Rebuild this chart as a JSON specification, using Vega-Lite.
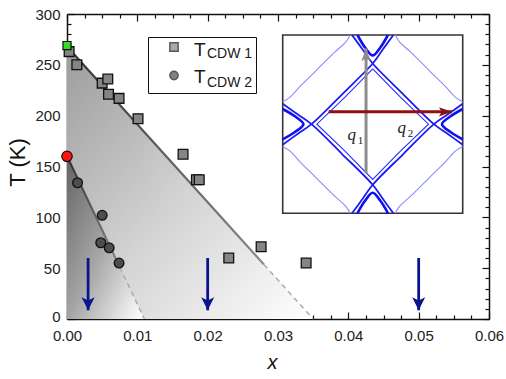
{
  "$schema": "https://vega.github.io/schema/vega-lite/v6.json",
  "width": 422,
  "height": 305,
  "autosize": {"type": "none"},
  "padding": {"left": 67, "top": 14, "right": 17, "bottom": 60},
  "background": "white",
  "config": {
    "view": {"stroke": null},
    "font": "Liberation Sans",
    "axis": {"grid": false, "domainColor": "#111", "domainWidth": 1.5, "tickColor": "#111", "tickWidth": 1.2, "labelFont": "Liberation Sans", "labelFontSize": 15, "labelColor": "#222", "labelFlush": false, "labelOverlap": false, "titleFont": "Liberation Sans", "titleFontWeight": "normal", "titleColor": "#111", "zindex": 1},
    "legend": {"labelFont": "Liberation Sans", "labelColor": "#1a1a1a"}
  },
  "datasets": {
    "boundaries": [
      {"phase": "CDW 1", "segment": "measured", "x": 0, "T": 268},
      {"phase": "CDW 1", "segment": "measured", "x": 0.028, "T": 53.6},
      {"phase": "CDW 1", "segment": "extrapolated", "x": 0.028, "T": 53.6},
      {"phase": "CDW 1", "segment": "extrapolated", "x": 0.035, "T": 0},
      {"phase": "CDW 2", "segment": "measured", "x": 0, "T": 160},
      {"phase": "CDW 2", "segment": "measured", "x": 0.0075, "T": 51},
      {"phase": "CDW 2", "segment": "extrapolated", "x": 0.0075, "T": 51},
      {"phase": "CDW 2", "segment": "extrapolated", "x": 0.011, "T": 0}
    ],
    "points": [
      {"x": 0.0003, "T": 263, "series": "T_CDW 1"},
      {"x": 0.0014, "T": 250, "series": "T_CDW 1"},
      {"x": 0.0050, "T": 232, "series": "T_CDW 1"},
      {"x": 0.0058, "T": 236, "series": "T_CDW 1"},
      {"x": 0.0059, "T": 221, "series": "T_CDW 1"},
      {"x": 0.0074, "T": 217, "series": "T_CDW 1"},
      {"x": 0.0101, "T": 197, "series": "T_CDW 1"},
      {"x": 0.0165, "T": 162, "series": "T_CDW 1"},
      {"x": 0.0184, "T": 137, "series": "T_CDW 1"},
      {"x": 0.0188, "T": 137, "series": "T_CDW 1"},
      {"x": 0.0230, "T": 60, "series": "T_CDW 1"},
      {"x": 0.0276, "T": 71, "series": "T_CDW 1"},
      {"x": 0.0340, "T": 55, "series": "T_CDW 1"},
      {"x": 0.0015, "T": 134, "series": "T_CDW 2"},
      {"x": 0.0050, "T": 102, "series": "T_CDW 2"},
      {"x": 0.0048, "T": 75, "series": "T_CDW 2"},
      {"x": 0.0060, "T": 70, "series": "T_CDW 2"},
      {"x": 0.0074, "T": 55, "series": "T_CDW 2"}
    ],
    "parent": [
      {"x": 0, "T": 269, "series": "T_CDW 1"},
      {"x": 0, "T": 160, "series": "T_CDW 2"}
    ],
    "arrows": [
      {"x": 0.003, "from": 60, "to": 8.6},
      {"x": 0.02, "from": 60, "to": 8.6},
      {"x": 0.05, "from": 60, "to": 8.6}
    ],
    "fermi": [
      {"kind": "outer", "id": "o1", "i": 0, "u": -0.23, "v": 1},
      {"kind": "outer", "id": "o1", "i": 1, "u": -0.11, "v": 0.835},
      {"kind": "outer", "id": "o1", "i": 2, "u": 0, "v": 0.68},
      {"kind": "outer", "id": "o1", "i": 3, "u": 0.34, "v": 0.335},
      {"kind": "outer", "id": "o1", "i": 4, "u": 0.68, "v": 0},
      {"kind": "outer", "id": "o1", "i": 5, "u": 0.835, "v": -0.11},
      {"kind": "outer", "id": "o1", "i": 6, "u": 1, "v": -0.23},
      {"kind": "outer", "id": "o2", "i": 0, "u": 0.23, "v": 1},
      {"kind": "outer", "id": "o2", "i": 1, "u": 0.11, "v": 0.835},
      {"kind": "outer", "id": "o2", "i": 2, "u": 0, "v": 0.68},
      {"kind": "outer", "id": "o2", "i": 3, "u": -0.34, "v": 0.335},
      {"kind": "outer", "id": "o2", "i": 4, "u": -0.68, "v": 0},
      {"kind": "outer", "id": "o2", "i": 5, "u": -0.835, "v": -0.11},
      {"kind": "outer", "id": "o2", "i": 6, "u": -1, "v": -0.23},
      {"kind": "outer", "id": "o3", "i": 0, "u": -0.23, "v": -1},
      {"kind": "outer", "id": "o3", "i": 1, "u": -0.11, "v": -0.835},
      {"kind": "outer", "id": "o3", "i": 2, "u": 0, "v": -0.68},
      {"kind": "outer", "id": "o3", "i": 3, "u": 0.34, "v": -0.335},
      {"kind": "outer", "id": "o3", "i": 4, "u": 0.68, "v": 0},
      {"kind": "outer", "id": "o3", "i": 5, "u": 0.835, "v": 0.11},
      {"kind": "outer", "id": "o3", "i": 6, "u": 1, "v": 0.23},
      {"kind": "outer", "id": "o4", "i": 0, "u": 0.23, "v": -1},
      {"kind": "outer", "id": "o4", "i": 1, "u": 0.11, "v": -0.835},
      {"kind": "outer", "id": "o4", "i": 2, "u": 0, "v": -0.68},
      {"kind": "outer", "id": "o4", "i": 3, "u": -0.34, "v": -0.335},
      {"kind": "outer", "id": "o4", "i": 4, "u": -0.68, "v": 0},
      {"kind": "outer", "id": "o4", "i": 5, "u": -0.835, "v": 0.11},
      {"kind": "outer", "id": "o4", "i": 6, "u": -1, "v": 0.23},
      {"kind": "chevron", "id": "h1", "i": 0, "u": -0.17, "v": 1},
      {"kind": "chevron", "id": "h1", "i": 1, "u": -0.085, "v": 0.86},
      {"kind": "chevron", "id": "h1", "i": 2, "u": 0, "v": 0.77},
      {"kind": "chevron", "id": "h1", "i": 3, "u": 0.085, "v": 0.86},
      {"kind": "chevron", "id": "h1", "i": 4, "u": 0.17, "v": 1},
      {"kind": "chevron", "id": "h2", "i": 0, "u": -0.17, "v": -1},
      {"kind": "chevron", "id": "h2", "i": 1, "u": -0.085, "v": -0.86},
      {"kind": "chevron", "id": "h2", "i": 2, "u": 0, "v": -0.77},
      {"kind": "chevron", "id": "h2", "i": 3, "u": 0.085, "v": -0.86},
      {"kind": "chevron", "id": "h2", "i": 4, "u": 0.17, "v": -1},
      {"kind": "chevron", "id": "h3", "i": 0, "u": -1, "v": 0.17},
      {"kind": "chevron", "id": "h3", "i": 1, "u": -0.86, "v": 0.085},
      {"kind": "chevron", "id": "h3", "i": 2, "u": -0.77, "v": 0},
      {"kind": "chevron", "id": "h3", "i": 3, "u": -0.86, "v": -0.085},
      {"kind": "chevron", "id": "h3", "i": 4, "u": -1, "v": -0.17},
      {"kind": "chevron", "id": "h4", "i": 0, "u": 1, "v": 0.17},
      {"kind": "chevron", "id": "h4", "i": 1, "u": 0.86, "v": 0.085},
      {"kind": "chevron", "id": "h4", "i": 2, "u": 0.77, "v": 0},
      {"kind": "chevron", "id": "h4", "i": 3, "u": 0.86, "v": -0.085},
      {"kind": "chevron", "id": "h4", "i": 4, "u": 1, "v": -0.17},
      {"kind": "inner", "id": "n1", "i": 0, "u": 0, "v": 0.62},
      {"kind": "inner", "id": "n1", "i": 1, "u": 0.305, "v": 0.305},
      {"kind": "inner", "id": "n1", "i": 2, "u": 0.62, "v": 0},
      {"kind": "inner", "id": "n1", "i": 3, "u": 0.305, "v": -0.305},
      {"kind": "inner", "id": "n1", "i": 4, "u": 0, "v": -0.62},
      {"kind": "inner", "id": "n1", "i": 5, "u": -0.305, "v": -0.305},
      {"kind": "inner", "id": "n1", "i": 6, "u": -0.62, "v": 0},
      {"kind": "inner", "id": "n1", "i": 7, "u": -0.305, "v": 0.305},
      {"kind": "inner", "id": "n1", "i": 8, "u": 0, "v": 0.62},
      {"kind": "arc", "id": "a1", "i": 0, "u": -0.25, "v": 1},
      {"kind": "arc", "id": "a1", "i": 1, "u": -0.3, "v": 0.92},
      {"kind": "arc", "id": "a1", "i": 2, "u": -0.42, "v": 0.81},
      {"kind": "arc", "id": "a1", "i": 3, "u": -0.62, "v": 0.61},
      {"kind": "arc", "id": "a1", "i": 4, "u": -0.81, "v": 0.42},
      {"kind": "arc", "id": "a1", "i": 5, "u": -0.92, "v": 0.3},
      {"kind": "arc", "id": "a1", "i": 6, "u": -1, "v": 0.25},
      {"kind": "arc", "id": "a2", "i": 0, "u": 0.25, "v": 1},
      {"kind": "arc", "id": "a2", "i": 1, "u": 0.3, "v": 0.92},
      {"kind": "arc", "id": "a2", "i": 2, "u": 0.42, "v": 0.81},
      {"kind": "arc", "id": "a2", "i": 3, "u": 0.62, "v": 0.61},
      {"kind": "arc", "id": "a2", "i": 4, "u": 0.81, "v": 0.42},
      {"kind": "arc", "id": "a2", "i": 5, "u": 0.92, "v": 0.3},
      {"kind": "arc", "id": "a2", "i": 6, "u": 1, "v": 0.25},
      {"kind": "arc", "id": "a3", "i": 0, "u": -0.25, "v": -1},
      {"kind": "arc", "id": "a3", "i": 1, "u": -0.3, "v": -0.92},
      {"kind": "arc", "id": "a3", "i": 2, "u": -0.42, "v": -0.81},
      {"kind": "arc", "id": "a3", "i": 3, "u": -0.62, "v": -0.61},
      {"kind": "arc", "id": "a3", "i": 4, "u": -0.81, "v": -0.42},
      {"kind": "arc", "id": "a3", "i": 5, "u": -0.92, "v": -0.3},
      {"kind": "arc", "id": "a3", "i": 6, "u": -1, "v": -0.25},
      {"kind": "arc", "id": "a4", "i": 0, "u": 0.25, "v": -1},
      {"kind": "arc", "id": "a4", "i": 1, "u": 0.3, "v": -0.92},
      {"kind": "arc", "id": "a4", "i": 2, "u": 0.42, "v": -0.81},
      {"kind": "arc", "id": "a4", "i": 3, "u": 0.62, "v": -0.61},
      {"kind": "arc", "id": "a4", "i": 4, "u": 0.81, "v": -0.42},
      {"kind": "arc", "id": "a4", "i": 5, "u": 0.92, "v": -0.3},
      {"kind": "arc", "id": "a4", "i": 6, "u": 1, "v": -0.25}
    ],
    "qvec": [
      {"q": "q1", "u0": -0.074, "v0": -0.55, "u1": -0.074, "v1": 0.85},
      {"q": "q2", "u0": -0.49, "v0": 0.138, "u1": 0.88, "v1": 0.138}
    ],
    "qlab": [
      {"q": "q", "sub": "1", "u": -0.233, "v": -0.18},
      {"q": "q", "sub": "2", "u": 0.322, "v": -0.1}
    ]
  },
  "layer": [
    {
      "layer": [
        {
          "data": {"name": "boundaries"},
          "transform": [{"filter": "datum.phase === 'CDW 1'"}],
          "mark": {"type": "area", "color": {"gradient": "linear", "x1": 0, "y1": 0, "x2": 1, "y2": 1, "stops": [{"offset": 0, "color": "#9c9c9c"}, {"offset": 0.5, "color": "#d2d2d2"}, {"offset": 1, "color": "#ffffff"}]}},
          "encoding": {
            "x": {"field": "x", "type": "quantitative", "scale": {"domain": [0, 0.06], "nice": false, "zero": false},
              "axis": {"orient": "bottom", "values": [0, 0.01, 0.02, 0.03, 0.04, 0.05, 0.06], "format": ".2f", "tickSize": -7, "labelPadding": 16, "title": "x", "titleFontStyle": "italic", "titleFontSize": 20, "titleX": 205, "titlePadding": 9, "titleColor": "#111"}},
            "y": {"field": "T", "type": "quantitative", "scale": {"domain": [0, 300], "nice": false, "zero": false},
              "axis": {"orient": "left", "values": [0, 50, 100, 150, 200, 250, 300], "tickSize": -7, "labelPadding": 14, "labelOffset": {"condition": {"test": "datum.value === 0", "value": -3}, "value": 0}, "title": "T (K)", "titleFontSize": 22, "titlePadding": 5, "titleY": 148, "titleColor": "#111"}},
            "y2": {"datum": 0}
          }
        },
        {
          "data": {"name": "boundaries"},
          "transform": [{"filter": "datum.phase === 'CDW 2'"}],
          "mark": {"type": "area", "color": {"gradient": "linear", "x1": 0, "y1": 0.1, "x2": 0.9, "y2": 1, "stops": [{"offset": 0, "color": "#6a6a6a"}, {"offset": 0.5, "color": "#a4a4a4"}, {"offset": 1, "color": "#f8f8f8"}]}},
          "encoding": {
            "x": {"field": "x", "type": "quantitative",
              "axis": {"orient": "bottom", "values": [0.0025, 0.005, 0.0075, 0.0125, 0.015, 0.0175, 0.0225, 0.025, 0.0275, 0.0325, 0.035, 0.0375, 0.0425, 0.045, 0.0475, 0.0525, 0.055, 0.0575], "labels": false, "domain": false, "tickSize": -4, "title": null}},
            "y": {"field": "T", "type": "quantitative",
              "axis": {"orient": "left", "values": [10, 20, 30, 40, 60, 70, 80, 90, 110, 120, 130, 140, 160, 170, 180, 190, 210, 220, 230, 240, 260, 270, 280, 290], "labels": false, "domain": false, "tickSize": -4, "title": null}},
            "y2": {"datum": 0}
          }
        },
        {
          "data": {"name": "boundaries"},
          "transform": [{"filter": "datum.segment === 'measured'"}],
          "mark": {"type": "line", "strokeWidth": 2.2, "stroke": {"gradient": "linear", "x1": 0, "y1": 0, "x2": 0, "y2": 1, "stops": [{"offset": 0, "color": "#333333"}, {"offset": 1, "color": "#8a8a8a"}]}},
          "encoding": {
            "x": {"field": "x", "type": "quantitative",
              "axis": {"orient": "top", "values": [0, 0.01, 0.02, 0.03, 0.04, 0.05, 0.06], "labels": false, "tickSize": -7, "title": null}},
            "y": {"field": "T", "type": "quantitative",
              "axis": {"orient": "right", "values": [0, 50, 100, 150, 200, 250, 300], "labels": false, "tickSize": -7, "title": null}},
            "detail": {"field": "phase"}
          }
        },
        {
          "data": {"name": "boundaries"},
          "transform": [{"filter": "datum.segment === 'extrapolated'"}],
          "mark": {"type": "line", "strokeWidth": 1.5, "stroke": "#ababab", "strokeDash": [5, 4]},
          "encoding": {
            "x": {"field": "x", "type": "quantitative",
              "axis": {"orient": "top", "values": [0.0025, 0.005, 0.0075, 0.0125, 0.015, 0.0175, 0.0225, 0.025, 0.0275, 0.0325, 0.035, 0.0375, 0.0425, 0.045, 0.0475, 0.0525, 0.055, 0.0575], "labels": false, "domain": false, "tickSize": -4, "title": null}},
            "y": {"field": "T", "type": "quantitative",
              "axis": {"orient": "right", "values": [10, 20, 30, 40, 60, 70, 80, 90, 110, 120, 130, 140, 160, 170, 180, 190, 210, 220, 230, 240, 260, 270, 280, 290], "labels": false, "domain": false, "tickSize": -4, "title": null}},
            "detail": {"field": "phase"}
          }
        },
        {
          "data": {"name": "arrows"},
          "mark": {"type": "rule", "stroke": "#0a148c", "strokeWidth": 2.8},
          "encoding": {
            "x": {"field": "x", "type": "quantitative", "axis": null},
            "y": {"field": "from", "type": "quantitative", "axis": null},
            "y2": {"field": "to"}
          }
        },
        {
          "data": {"name": "arrows"},
          "mark": {"type": "point", "shape": "M0,0 L-0.5,-1 L0,-0.75 L0.5,-1 Z", "size": 676, "filled": true, "fill": "#0a148c", "stroke": null, "opacity": 1},
          "encoding": {
            "x": {"field": "x", "type": "quantitative", "axis": null},
            "y": {"field": "to", "type": "quantitative", "axis": null}
          }
        },
        {
          "data": {"name": "points"},
          "mark": {"type": "point", "filled": true, "stroke": "#111", "strokeWidth": 1.3, "size": 95},
          "encoding": {
            "x": {"field": "x", "type": "quantitative", "axis": null},
            "y": {"field": "T", "type": "quantitative", "axis": null},
            "color": {"field": "series", "type": "nominal", "scale": {"range": ["#858585", "#4d4d4d"]},
              "legend": {"orient": "none", "legendX": 81, "legendY": 23, "title": null, "padding": 3, "strokeColor": "#111", "fillColor": "white", "symbolOffset": 16, "symbolSize": 70, "symbolStrokeColor": "#111", "symbolStrokeWidth": 1.4, "labelFontSize": 14, "labelBaseline": "top", "labelOffset": 26, "rowPadding": 7.5, "labelExpr": "slice(datum.label, 2)"}},
            "shape": {"field": "series", "type": "nominal", "scale": {"range": ["square", "circle"]}},
            "opacity": {"field": "series", "type": "ordinal", "scale": {"domain": ["T_CDW 1", "T_CDW 2"], "range": [1, 1]},
              "legend": {"orient": "none", "legendX": 108, "legendY": 26.5, "title": null, "padding": 0, "symbolSize": 0, "symbolStrokeWidth": 0, "labelFontSize": 19, "labelBaseline": "middle", "labelOffset": 0, "rowPadding": 6.5, "labelExpr": "'T'"}}
          }
        },
        {
          "data": {"name": "parent"},
          "transform": [{"filter": "datum.series === 'T_CDW 1'"}],
          "mark": {"type": "point", "shape": "square", "filled": true, "fill": "#33dd22", "stroke": "#111", "strokeWidth": 1.2, "size": 65, "opacity": 1},
          "encoding": {
            "x": {"field": "x", "type": "quantitative", "axis": null},
            "y": {"field": "T", "type": "quantitative", "axis": null}
          }
        },
        {
          "data": {"name": "parent"},
          "transform": [{"filter": "datum.series === 'T_CDW 2'"}],
          "mark": {"type": "point", "shape": "circle", "filled": true, "fill": "#ff1111", "stroke": "#111", "strokeWidth": 1.2, "size": 110, "opacity": 1},
          "encoding": {
            "x": {"field": "x", "type": "quantitative", "axis": null},
            "y": {"field": "T", "type": "quantitative", "axis": null}
          }
        }
      ],
      "resolve": {"axis": {"x": "independent", "y": "independent"}}
    },
    {
      "layer": [
        {
          "data": {"values": [{"panel": "Fermi surface"}]},
          "mark": {"type": "rect", "fill": "white", "stroke": "#333", "strokeWidth": 1.6},
          "encoding": {
            "x": {"datum": -1, "type": "quantitative", "scale": {"domain": [-1, 1], "range": [215.7, 395.7], "nice": false, "zero": false}, "axis": null},
            "x2": {"datum": 1},
            "y": {"datum": -1, "type": "quantitative", "scale": {"domain": [-1, 1], "range": [199.3, 21], "nice": false, "zero": false}, "axis": null},
            "y2": {"datum": 1}
          }
        },
        {
          "data": {"name": "fermi"},
          "transform": [{"filter": "datum.kind === 'arc'"}],
          "mark": {"type": "line", "interpolate": "catmull-rom", "stroke": "#8c8cff", "strokeWidth": 1.1},
          "encoding": {
            "x": {"field": "u", "type": "quantitative", "axis": null},
            "y": {"field": "v", "type": "quantitative", "axis": null},
            "detail": {"field": "id"},
            "order": {"field": "i"}
          }
        },
        {
          "data": {"name": "fermi"},
          "transform": [{"filter": "datum.kind === 'inner'"}],
          "mark": {"type": "line", "interpolate": "linear", "stroke": "#2a2aff", "strokeWidth": 1.1},
          "encoding": {
            "x": {"field": "u", "type": "quantitative", "axis": null},
            "y": {"field": "v", "type": "quantitative", "axis": null},
            "detail": {"field": "id"},
            "order": {"field": "i"}
          }
        },
        {
          "data": {"name": "fermi"},
          "transform": [{"filter": "datum.kind === 'outer'"}],
          "mark": {"type": "line", "interpolate": "catmull-rom", "stroke": "#1c1cf5", "strokeWidth": 1.8},
          "encoding": {
            "x": {"field": "u", "type": "quantitative", "axis": null},
            "y": {"field": "v", "type": "quantitative", "axis": null},
            "detail": {"field": "id"},
            "order": {"field": "i"}
          }
        },
        {
          "data": {"name": "fermi"},
          "transform": [{"filter": "datum.kind === 'chevron'"}],
          "mark": {"type": "line", "interpolate": "catmull-rom", "stroke": "#1010ee", "strokeWidth": 2.6},
          "encoding": {
            "x": {"field": "u", "type": "quantitative", "axis": null},
            "y": {"field": "v", "type": "quantitative", "axis": null},
            "detail": {"field": "id"},
            "order": {"field": "i"}
          }
        },
        {
          "data": {"name": "qvec"},
          "transform": [{"filter": "datum.q === 'q1'"}],
          "mark": {"type": "rule", "stroke": "#8c8c8c", "strokeWidth": 3},
          "encoding": {
            "x": {"field": "u0", "type": "quantitative", "axis": null},
            "y": {"field": "v0", "type": "quantitative", "axis": null},
            "x2": {"field": "u1"},
            "y2": {"field": "v1"}
          }
        },
        {
          "data": {"name": "qvec"},
          "transform": [{"filter": "datum.q === 'q1'"}],
          "mark": {"type": "point", "shape": "M0,0 L0.36,1 L0,0.78 L-0.36,1 Z", "size": 676, "filled": true, "fill": "#8c8c8c", "stroke": null, "opacity": 1},
          "encoding": {
            "x": {"field": "u1", "type": "quantitative", "axis": null},
            "y": {"field": "v1", "type": "quantitative", "axis": null}
          }
        },
        {
          "data": {"name": "qvec"},
          "transform": [{"filter": "datum.q === 'q2'"}],
          "mark": {"type": "rule", "stroke": "#8e1010", "strokeWidth": 3},
          "encoding": {
            "x": {"field": "u0", "type": "quantitative", "axis": null},
            "y": {"field": "v0", "type": "quantitative", "axis": null},
            "x2": {"field": "u1"},
            "y2": {"field": "v1"}
          }
        },
        {
          "data": {"name": "qvec"},
          "transform": [{"filter": "datum.q === 'q2'"}],
          "mark": {"type": "point", "shape": "M0,0 L-1,-0.36 L-0.78,0 L-1,0.36 Z", "size": 676, "filled": true, "fill": "#8e1010", "stroke": null, "opacity": 1},
          "encoding": {
            "x": {"field": "u1", "type": "quantitative", "axis": null},
            "y": {"field": "v1", "type": "quantitative", "axis": null}
          }
        },
        {
          "data": {"name": "qlab"},
          "mark": {"type": "text", "font": "Liberation Serif", "fontStyle": "italic", "fontSize": 17, "align": "center", "baseline": "alphabetic", "color": "#222"},
          "encoding": {
            "x": {"field": "u", "type": "quantitative", "axis": null},
            "y": {"field": "v", "type": "quantitative", "axis": null},
            "text": {"field": "q"}
          }
        },
        {
          "data": {"name": "qlab"},
          "mark": {"type": "text", "font": "Liberation Serif", "fontSize": 11, "align": "left", "baseline": "alphabetic", "dx": 6, "dy": 4, "color": "#222"},
          "encoding": {
            "x": {"field": "u", "type": "quantitative", "axis": null},
            "y": {"field": "v", "type": "quantitative", "axis": null},
            "text": {"field": "sub"}
          }
        }
      ]
    }
  ],
  "resolve": {"scale": {"x": "independent", "y": "independent"}}
}
